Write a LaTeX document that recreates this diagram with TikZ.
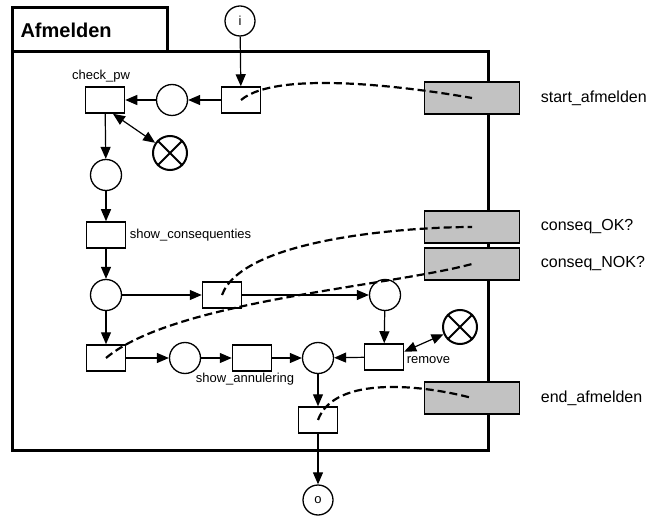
\documentclass[tikz,border=0pt]{standalone}
\usepackage{fontspec}
\setmainfont{Liberation Sans}
\usetikzlibrary{arrows.meta,positioning}

\begin{document}
\begin{tikzpicture}[
    x=1pt, y=1pt,
    font=\fontsize{13}{15}\selectfont,
    place/.style={draw, circle, minimum size=31pt, inner sep=0pt, line width=1.3pt},
    xplace/.style={place, minimum size=34pt, line width=2pt},
    trans/.style={draw, rectangle, minimum width=39pt, minimum height=26pt, inner sep=0pt, line width=1.5pt},
    iface/.style={draw, rectangle, fill=black!24, minimum width=95pt, minimum height=32pt,
                  inner sep=0pt, line width=1.7pt},
    arc/.style={-{Triangle[length=12pt,width=10pt]}, line width=1.2pt},
    biarc/.style={{Triangle[length=12pt,width=10pt]}-{Triangle[length=12pt,width=10pt]}, line width=1.2pt},
    link/.style={dash pattern=on 8pt off 4pt, line width=2.2pt},
    lbl/.style={font=\fontsize{16}{18}\selectfont},
    ]
\useasboundingbox (0,0) rectangle (655,-518);

% subprocess frame with its tab
\draw[line width=3pt] (12,-52) rectangle (488,-450);
\draw[line width=3pt] (12,-8) rectangle (167,-52);
\node[anchor=west, font=\bfseries\fontsize{20}{22}\selectfont] (title) at (17,-30) {Afmelden};

% places and transitions
\node[place, minimum size=30pt] (pi) at (240,-21) {i};
\node[trans] (tstart) at (241,-100) {};
\node[place] (p1) at (172,-100) {};
\node[trans] (tcheck) at (105,-100) {};
\node[above=1pt of tcheck, xshift=-4pt] (lcheck) {check\_pw};
\node[xplace] (x1) at (170,-153) {};
\node[place] (p2) at (106,-175) {};
\node[trans] (tshow) at (106,-235) {};
\node[right=0pt of tshow] (lshow) {show\_consequenties};
\node[place] (p3) at (106,-295) {};
\node[trans] (tok) at (222,-295) {};
\node[place] (p4) at (385,-295) {};
\node[trans] (tnok) at (106,-358) {};
\node[place] (p5) at (185,-358) {};
\node[trans] (tann) at (252,-358) {};
\node[below=-2pt of tann, xshift=-7pt] (lann) {show\_annulering};
\node[place] (p6) at (318,-358) {};
\node[trans] (trem) at (384,-357) {};
\node[right=-1pt of trem, yshift=-3pt] (lrem) {remove};
\node[xplace] (x2) at (460,-327) {};
\node[trans] (tend) at (318,-420) {};
\node[place, minimum size=30pt] (po) at (318,-500) {o};

\foreach \n in {x1,x2}
  \draw[line width=2pt] (\n.45) -- (\n.225) (\n.135) -- (\n.315);

% flow
\draw[arc] (pi) -- (tstart);
\draw[arc] (tstart) -- (p1);
\draw[arc] (p1) -- (tcheck);
\draw[biarc] (tcheck.-60) -- (x1);
\draw[arc] (tcheck) -- (p2);
\draw[arc] (p2) -- (tshow);
\draw[arc] (tshow) -- (p3);
\draw[arc] (p3) -- (tok);
\draw[arc] (tok) -- (p4);
\draw[arc] (p3) -- (tnok);
\draw[arc] (tnok) -- (p5);
\draw[arc] (p5) -- (tann);
\draw[arc] (tann) -- (p6);
\draw[arc] (p4) -- (trem);
\draw[arc] (trem) -- (p6);
\draw[biarc] (trem.15) -- (x2);
\draw[arc] (p6) -- (tend);
\draw[arc] (tend) -- (po);

% interface tasks
\node[iface] (gstart) at (472,-98) {};
\node[iface] (gok) at (472,-227) {};
\node[iface] (gnok) at (472,-264) {};
\node[iface] (gend) at (472,-398) {};
\node[lbl, right=17pt of gstart] (lstart) {start\_afmelden};
\node[lbl, right=17pt of gok] (lok) {conseq\_OK?};
\node[lbl, right=17pt of gnok] (lnok) {conseq\_NOK?};
\node[lbl, right=17pt of gend] (lend) {end\_afmelden};

\draw[link] (tstart.center) to[out=40, in=170, looseness=0.55] (gstart.center);
\draw[link] (tok.center) to[out=70, in=180, looseness=0.6] (gok.center);
\draw[link] (tnok.center) to[out=40, in=195, looseness=0.6] (gnok.center);
\draw[link] (tend.center) to[out=70, in=165, looseness=0.8] (gend.center);
\end{tikzpicture}
\end{document}
